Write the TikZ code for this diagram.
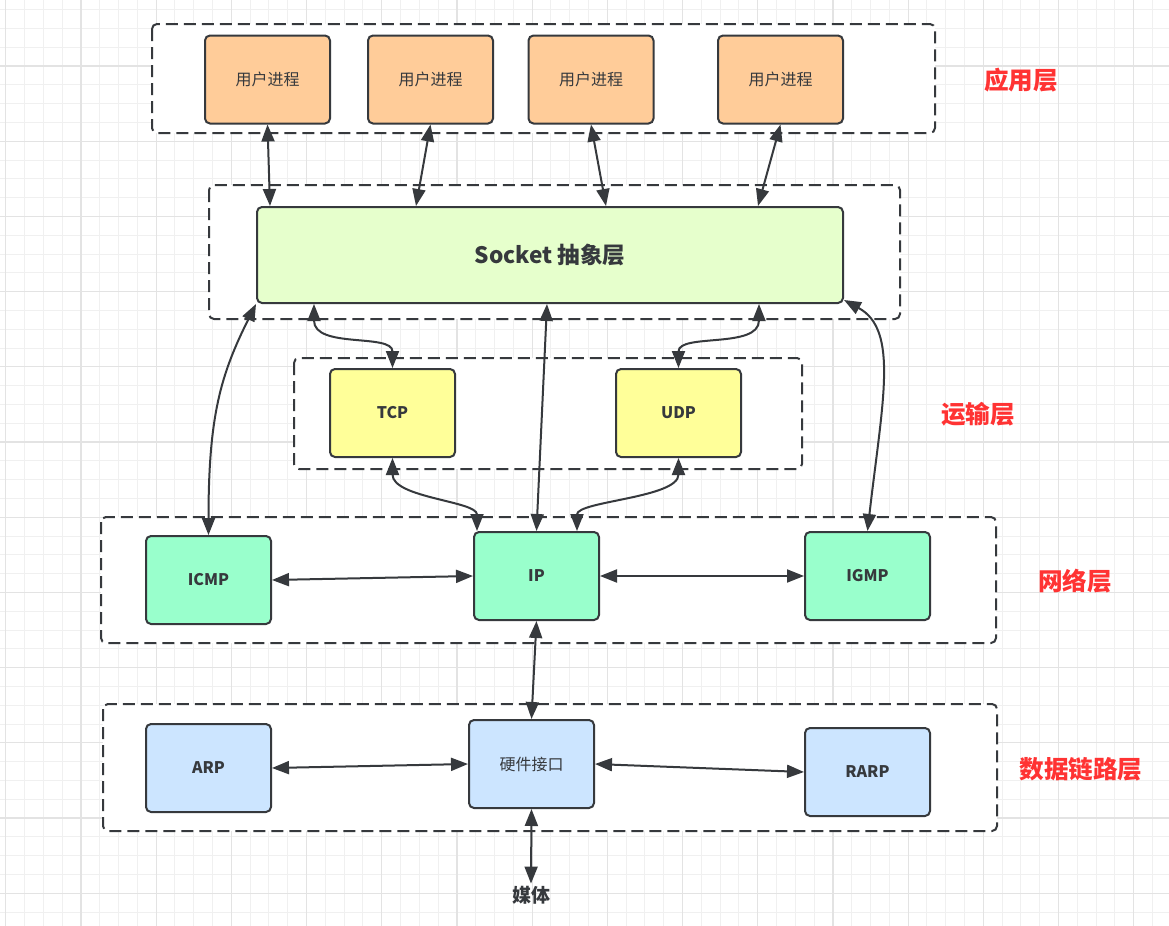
\documentclass[tikz,border=0pt]{standalone}
\usepackage{fontspec}
\setmainfont{Noto Sans CJK SC}
\usetikzlibrary{arrows.meta}

\definecolor{lijn}{HTML}{36393D}
\definecolor{oranje}{HTML}{FFCC99}
\definecolor{lichtgroen}{HTML}{E6FFCC}
\definecolor{geel}{HTML}{FFFF99}
\definecolor{mint}{HTML}{99FFCC}
\definecolor{lichtblauw}{HTML}{CCE5FF}
\definecolor{rood}{HTML}{FF3333}

\tikzstyle{rasterfijn} = [draw=gray!12, line width=0.5pt]
\tikzstyle{rastergrof} = [draw=gray!22, line width=0.6pt]
\tikzstyle{frame} = [draw=lijn, fill=white, line width=1pt, dash pattern=on 6pt off 3pt, rounded corners=2.5pt]
\tikzstyle{box} = [draw=lijn, line width=1pt, rounded corners=2.5pt, minimum width=62.5pt, minimum height=44pt, inner sep=0pt, text=lijn]
\tikzstyle{proto} = [box, font=\bfseries\fontsize{8}{9.5}\selectfont]
\tikzstyle{layername} = [text=rood, font=\bfseries\fontsize{12.3}{14}\selectfont]
\tikzstyle{conn} = [draw=lijn, line width=1pt, {Triangle[length=8.5pt,width=6.5pt]}-{Triangle[length=8.5pt,width=6.5pt]}]

\begin{document}
\begin{tikzpicture}[x=0.5pt, y=-0.5pt]
\useasboundingbox (0,0) rectangle (1169,926);
\clip (0,0) rectangle (1169,926);
%raster
\fill[white] (0,0) rectangle (1169,926);
\begin{scope}[shift={(5.7,-9.2)}]
\draw[rasterfijn, step=9.4pt] (-20,-20) grid (1200,960);
\draw[rastergrof, step=37.6pt] (-20,-20) grid (1200,960);
\end{scope}
%kaders
\draw[frame] (152,24) rectangle (935,133);
\draw[frame] (209,185) rectangle (900,319);
\draw[frame] (294,358) rectangle (802,469);
\draw[frame] (101,517) rectangle (996,643);
\draw[frame] (103,704) rectangle (997,831);
%begin applicatielaag
\node[box, fill=oranje, font=\fontsize{8}{10}\selectfont] (proc1) at (267.5,79.5) {用户进程};
\node[box, fill=oranje, font=\fontsize{8}{10}\selectfont] (proc2) at (430.5,79.5) {用户进程};
\node[box, fill=oranje, font=\fontsize{8}{10}\selectfont] (proc3) at (591,79.5) {用户进程};
\node[box, fill=oranje, font=\fontsize{8}{10}\selectfont] (proc4) at (780.5,79.5) {用户进程};
\node[layername] (appname) at (1021,80) {应用层};
%end applicatielaag
%begin socket
\node[box, fill=lichtgroen, minimum width=293pt, minimum height=48pt, font=\bfseries\fontsize{11.3}{13}\selectfont] (socket) at (550,255) {Socket 抽象层};
%end socket
%begin transportlaag
\node[proto, fill=geel] (tcp) at (392.5,413) {TCP};
\node[proto, fill=geel] (udp) at (678.5,413) {UDP};
\node[layername] (transname) at (978,414) {运输层};
%end transportlaag
%begin netwerklaag
\node[proto, fill=mint] (icmp) at (208.5,580) {ICMP};
\node[proto, fill=mint] (ip) at (536.5,576) {IP};
\node[proto, fill=mint] (igmp) at (867.5,576) {IGMP};
\node[layername] (netname) at (1075,581) {网络层};
%end netwerklaag
%begin linklaag
\node[proto, fill=lichtblauw] (arp) at (208.5,768) {ARP};
\node[box, fill=lichtblauw, font=\fontsize{8}{9.5}\selectfont] (hw) at (531.5,764) {硬件接口};
\node[proto, fill=lichtblauw] (rarp) at (867.5,772) {RARP};
\node[layername] (linkname) at (1081,769) {数据链路层};
\node[text=lijn, inner sep=1pt, font=\bfseries\fontsize{9.5}{11}\selectfont] (media) at (531,895) {媒体};
%end linklaag
%begin pijlen
\draw[conn] (proc1.south) -- ([xshift=7pt]socket.north west);
\draw[conn] (proc2.south) -- ([xshift=80pt]socket.north west);
\draw[conn] (proc3.south) -- ([xshift=175pt]socket.north west);
\draw[conn] (proc4.south) -- ([xshift=251pt]socket.north west);
\draw[conn] ([xshift=29pt]socket.south west) .. controls +(0,45) and +(0,-35) .. (tcp.north);
\draw[conn] ([xshift=251.5pt]socket.south west) .. controls +(0,45) and +(0,-35) .. (udp.north);
\draw[conn] ([xshift=145.5pt]socket.south west) -- (ip.north);
\draw[conn] (socket.south west) .. controls +(-35,70) and +(0,-120) .. (icmp.north);
\draw[conn] ([yshift=2pt]socket.south east) .. controls +(55,30) and +(15,-130) .. (igmp.north);
\draw[conn] (tcp.south) .. controls +(0,40) and +(0,-30) .. ([xshift=2pt]ip.north west);
\draw[conn] (udp.south) .. controls +(0,40) and +(0,-30) .. ([xshift=52pt]ip.north west);
\draw[conn] (icmp.east) -- (ip.west);
\draw[conn] (ip.east) -- (igmp.west);
\draw[conn] (ip.south) -- (hw.north);
\draw[conn] (arp.east) -- (hw.west);
\draw[conn] (hw.east) -- (rarp.west);
\draw[conn] (hw.south) -- (media.north);
%end pijlen
\end{tikzpicture}
\end{document}
